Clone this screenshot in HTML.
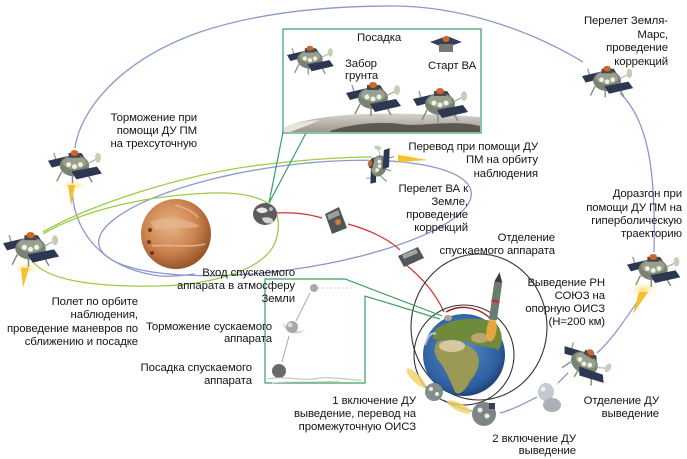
<!DOCTYPE html>
<html><head><meta charset="utf-8">
<style>
html,body{margin:0;padding:0;background:#fff;}
svg{display:block;}
text{font-family:"Liberation Sans",Arial,sans-serif;font-size:11.4px;letter-spacing:-0.1px;fill:#151515;}
</style></head><body>
<svg width="687" height="459" viewBox="0 0 687 459" xmlns="http://www.w3.org/2000/svg">
<defs>
 <radialGradient id="mars" cx="0.42" cy="0.38" r="0.68">
   <stop offset="0" stop-color="#e9b488"/>
   <stop offset="0.55" stop-color="#cd844e"/>
   <stop offset="1" stop-color="#8c4a22"/>
 </radialGradient>
 <radialGradient id="earth" cx="0.45" cy="0.42" r="0.62">
   <stop offset="0" stop-color="#5a8fce"/>
   <stop offset="0.8" stop-color="#2c5c9c"/>
   <stop offset="1" stop-color="#1a3a6c"/>
 </radialGradient>
 <radialGradient id="glow">
   <stop offset="0" stop-color="#ffe070" stop-opacity="1"/>
   <stop offset="1" stop-color="#fff3c0" stop-opacity="0"/>
 </radialGradient>
 <linearGradient id="ground" x1="0" x2="0" y1="0" y2="1">
   <stop offset="0" stop-color="#d6d2ca"/>
   <stop offset="1" stop-color="#9c968c"/>
 </linearGradient>
 <g id="lander">
   <line x1="14" y1="24" x2="9" y2="34" stroke="#8a8a80" stroke-width="1.5"/>
   <line x1="40" y1="26" x2="45" y2="35" stroke="#8a8a80" stroke-width="1.5"/>
   <line x1="25" y1="28" x2="25" y2="36" stroke="#8a8a80" stroke-width="1.5"/>
   <line x1="6" y1="5" x2="9" y2="15" stroke="#a0a098" stroke-width="1.5"/>
   <polygon points="0,13 34,5 38,11 4,20" fill="#2c3852"/>
   <ellipse cx="27" cy="18" rx="15" ry="11" fill="#7a8272"/>
   <ellipse cx="27" cy="15" rx="12" ry="6.5" fill="#9aa090"/>
   <circle cx="21" cy="17" r="2.5" fill="#eef4e0"/>
   <circle cx="27" cy="19" r="2.5" fill="#eef4e0"/>
   <circle cx="33" cy="17" r="2.5" fill="#eef4e0"/>
   <rect x="21" y="5" width="12" height="5" fill="#4a4a48"/>
   <ellipse cx="27" cy="5" rx="4" ry="3" fill="#d0652a"/>
   <polygon points="24,24 50,19 55,26 29,32" fill="#2c3852"/>
   <line x1="40" y1="16" x2="50" y2="11" stroke="#999"/>
   <ellipse cx="51" cy="10" rx="3" ry="5" fill="#c5cfb5"/>
 </g>
</defs>

<!-- ===== Blue trajectories ===== -->
<g fill="none" stroke="#8a98cc" stroke-width="1.3">
  <path d="M75,148 C80,110 120,60 200,32 C260,12 330,6 393,6 C460,6 530,30 583,62"/>
  <path d="M620,93 C648,120 656,170 654,252"/>
  <path d="M640,298 C628,315 612,340 597,353"/>
  <path d="M568,373 L558,383"/>
  <path d="M537,397 C525,403 512,410 500,413"/>
  <path d="M443,400 C450,404 460,408 472,411"/>
  <path d="M72,185 C72,230 100,268 160,276 C175,277 185,275 195,274"/>
  <ellipse cx="285" cy="218" rx="188" ry="52" transform="rotate(-8 285 218)"/>
</g>

<!-- ===== Green orbits ===== -->
<g fill="none" stroke="#9ccc44" stroke-width="1.3">
  <path d="M43,232 C90,205 180,175 260,165 C310,159 350,157 372,157"/>
  <path d="M43,234 C80,212 140,196 210,193 C245,192 268,198 276,212"/>
  <path d="M33,262 C50,282 100,287 160,286 C220,284 262,268 274,245 C280,232 279,220 276,212"/>
</g>

<!-- ===== Red path ===== -->
<g fill="none" stroke="#d43030" stroke-width="1.2">
  <path d="M276,213 C295,212 308,214 322,218"/>
  <path d="M348,224 C370,230 390,240 400,250"/>
  <path d="M405,264 C420,276 435,292 444,312"/>
</g>
<path d="M446,312 C462,303 480,308 492,320" fill="none" stroke="#a02020" stroke-width="1.4"/>

<!-- ===== Earth orbits ===== -->
<ellipse cx="479" cy="327" rx="68" ry="73" fill="none" stroke="#333" stroke-width="1.1"/>
<circle cx="464" cy="355" r="50" fill="none" stroke="#333" stroke-width="1.1"/>

<!-- ===== Mars ===== -->
<circle cx="176" cy="234" r="35" fill="url(#mars)"/>
<path d="M150,222 C165,215 185,218 200,226 C190,230 170,226 155,230 Z" fill="#e6b690" opacity="0.7"/>
<path d="M152,246 C170,244 190,248 205,244" stroke="#e8c0a0" stroke-width="1.5" fill="none" opacity="0.8"/>
<path d="M175,205 C185,208 195,212 198,218" stroke="#e8c0a0" stroke-width="2" fill="none" opacity="0.6"/>
<circle cx="150" cy="230" r="2" fill="#6a3a1c"/>
<circle cx="149" cy="242" r="2" fill="#6a3a1c"/>
<circle cx="152" cy="253" r="2" fill="#6a3a1c"/>

<!-- ===== Phobos ===== -->
<ellipse cx="265" cy="214" rx="12" ry="11" fill="#5c5c5c"/>
<path d="M256,210 C260,206 266,207 268,211 C264,214 259,214 256,210 Z" fill="#e8e8e8"/>
<path d="M262,218 C268,216 274,218 273,222 C268,225 263,223 262,218 Z" fill="#d0d0d0"/>
<circle cx="271" cy="209" r="2" fill="#bbb"/>

<!-- ===== Upper inset (Mars landing) ===== -->
<g fill="none" stroke="#3c9c6a" stroke-width="1.2">
  <rect x="283" y="29" width="198" height="104"/>
  <line x1="283" y1="132" x2="269" y2="203"/>
  <line x1="306" y1="133" x2="269" y2="203"/>
</g>
<path d="M284,128 C300,120 330,115 365,114 C400,113 440,114 480,117 L480,132 L284,132 Z" fill="url(#ground)"/>
<path d="M330,131 C350,124 380,121 400,124 C420,127 440,121 470,124 L480,126 L480,132 L330,132 Z" fill="#4a443e" opacity="0.8"/>
<path d="M284,128 C292,124 305,121 320,120 C310,125 300,128 290,132 L284,132 Z" fill="#e8e4dc"/>

<use href="#lander" transform="translate(287,44) scale(0.85)"/>
<use href="#lander" transform="translate(346,80) scale(1.0)"/>
<use href="#lander" transform="translate(413,86) scale(1.0)"/>
<!-- ascent vehicle -->
<polygon points="430,42 447,36 462,42 445,48" fill="#33405a"/>
<rect x="439" y="44" width="14" height="8" fill="#777a70"/>
<ellipse cx="446" cy="39" rx="3.5" ry="3" fill="#d0652a"/>

<!-- ===== Lower inset (Earth landing) ===== -->
<polyline points="442,316 345,279 265,279 265,383 365,383 365,296 440,319" fill="none" stroke="#3aa060" stroke-width="1.2"/>
<line x1="318" y1="288" x2="355" y2="288" stroke="#cfcfcf" stroke-dasharray="2,2"/>
<line x1="310" y1="293" x2="296" y2="321" stroke="#aaa" stroke-width="1"/>
<line x1="289" y1="336" x2="282" y2="362" stroke="#aaa" stroke-width="1"/>
<circle cx="314" cy="288" r="4" fill="#a8a8a8"/>
<path d="M282,322 C288,330 296,333 305,330 C298,336 286,335 282,322 Z" fill="#e8c8d0"/>
<circle cx="292" cy="327" r="6" fill="#a8a8a8"/>
<circle cx="290" cy="325" r="2.5" fill="#ddd"/>
<circle cx="279" cy="371" r="7" fill="#6a6a6a"/>
<path d="M268,379 C285,375 300,382 320,378 C335,376 350,381 362,380" fill="none" stroke="#bbb" stroke-width="1"/>
<path d="M272,383 C290,381 310,383 340,381" fill="none" stroke="#ccc" stroke-width="1"/>

<!-- ===== Earth ===== -->
<circle cx="464" cy="355" r="41" fill="url(#earth)"/>
<path d="M433,332 C445,320 470,315 495,322 C503,330 504,345 498,350 C488,346 478,346 470,343 C460,339 445,341 433,339 Z" fill="#6f8a3a"/>
<path d="M438,341 C455,338 470,345 476,352 C482,360 478,372 470,381 C465,392 458,396 455,392 C450,380 445,368 438,360 C433,352 434,345 438,341 Z" fill="#9a9a55"/>
<ellipse cx="452" cy="346" rx="13" ry="6" fill="#d8c8a0"/>
<ellipse cx="480" cy="338" rx="9" ry="5" fill="#b8a870"/>
<path d="M425,345 C428,335 432,332 436,334" stroke="#e0e8f0" stroke-width="2" fill="none" opacity="0.7"/>
<ellipse cx="448" cy="318" rx="4" ry="3" fill="#aaa890"/>

<!-- ===== Rocket ===== -->
<g transform="translate(496,298) rotate(8)">
  <ellipse cx="0" cy="32" rx="5" ry="12" fill="#f2a840" opacity="0.9"/>
  <rect x="-4" y="-16" width="8" height="38" fill="#6a7c72"/>
  <rect x="-4" y="2" width="8" height="2.5" fill="#c03030"/>
  <path d="M-4,-16 L0,-26 L4,-16 Z" fill="#3a3a3a"/>
</g>

<!-- ===== Flames ===== -->
<ellipse cx="73" cy="186" rx="13" ry="6" fill="url(#glow)"/>
<path d="M68,185 L75,185 L71,206 Z" fill="#f2c030"/>
<ellipse cx="26" cy="268" rx="12" ry="6" fill="url(#glow)"/>
<path d="M21,268 L29,268 L23,288 Z" fill="#f2c030"/>
<ellipse cx="643" cy="290" rx="14" ry="8" fill="url(#glow)"/>
<path d="M639,292 L648,292 L633,314 Z" fill="#f2c030"/>
<ellipse cx="405" cy="158" rx="11" ry="6" fill="url(#glow)"/>
<path d="M398,155 L398,162 L428,160 Z" fill="#f2c030"/>
<ellipse cx="416" cy="378" rx="13" ry="4" transform="rotate(45 416 378)" fill="#f2d060" opacity="0.8"/>
<ellipse cx="459" cy="407" rx="13" ry="4" transform="rotate(25 459 407)" fill="#f2d060" opacity="0.8"/>

<!-- ===== Spacecraft ===== -->
<use href="#lander" transform="translate(48,148) scale(0.98)"/>
<use href="#lander" transform="translate(3,230) scale(1.02)"/>
<use href="#lander" transform="translate(582,64) scale(0.93)"/>
<use href="#lander" transform="translate(627,252) scale(0.97)"/>
<use href="#lander" transform="translate(586,365) rotate(30) translate(-28,-18) scale(0.95)"/>
<use href="#lander" transform="translate(386,159) rotate(-75) translate(-28,-18) scale(0.72)"/>

<polygon points="325,214 339,207 347,228 332,234" fill="#4f5656"/>
<polygon points="327,215 338,210 340,215 329,220" fill="#9aa0a0"/>
<circle cx="338" cy="222" r="3" fill="#d87a30"/>
<polygon points="398,256 418,247 424,258 404,267" fill="#50585a"/>
<polygon points="402,255 416,249 418,253 404,259" fill="#a0a6a6"/>
<ellipse cx="434" cy="392" rx="9" ry="9" fill="#858c8c"/>
<circle cx="431" cy="389" r="2" fill="#e8eee0"/>
<circle cx="437" cy="394" r="2" fill="#e8eee0"/>
<ellipse cx="484" cy="414" rx="12" ry="12" fill="#7f8585"/>
<circle cx="480" cy="410" r="2.5" fill="#e8eee0"/>
<circle cx="487" cy="416" r="2.5" fill="#e8eee0"/>
<rect x="489" y="403" width="6" height="6" fill="#3a4050"/>
<ellipse cx="546" cy="392" rx="8" ry="9" fill="#c4c9ce"/>
<ellipse cx="552" cy="405" rx="9" ry="7" fill="#aab0b6"/>
<circle cx="543" cy="389" r="2.5" fill="#eef0f2"/>

<!-- ===== Text ===== -->
<g text-anchor="end">
  <text x="197" y="121">Торможение при</text>
  <text x="197" y="134">помощи ДУ ПМ</text>
  <text x="197" y="147">на трехсуточную</text>

  <text x="668" y="24">Перелет Земля-</text>
  <text x="668" y="38">Марс,</text>
  <text x="668" y="51">проведение</text>
  <text x="668" y="65">коррекций</text>

  <text x="538" y="150">Перевод при помощи ДУ</text>
  <text x="538" y="163">ПМ на орбиту</text>
  <text x="538" y="177">наблюдения</text>

  <text x="468" y="192">Перелет ВА к</text>
  <text x="468" y="205">Земле,</text>
  <text x="468" y="218">проведение</text>
  <text x="468" y="231">коррекций</text>

  <text x="682" y="197">Доразгон при</text>
  <text x="682" y="211">помощи ДУ ПМ на</text>
  <text x="682" y="224">гиперболическую</text>
  <text x="682" y="237">траекторию</text>

  <text x="555" y="241">Отделение</text>
  <text x="555" y="254">спускаемого аппарата</text>

  <text x="605" y="286">Выведение РН</text>
  <text x="605" y="299">СОЮЗ на</text>
  <text x="605" y="312">опорную ОИСЗ</text>
  <text x="605" y="325">(Н=200 км)</text>

  <text x="659" y="404">Отделение ДУ</text>
  <text x="659" y="417">выведение</text>

  <text x="576" y="442">2 включение ДУ</text>
  <text x="576" y="454">выведение</text>

  <text x="416" y="404">1 включение ДУ</text>
  <text x="416" y="417">выведение, перевод на</text>
  <text x="416" y="430">промежуточную ОИСЗ</text>

  <text x="295" y="276">Вход спускаемого</text>
  <text x="295" y="289">аппарата в атмосферу</text>
  <text x="295" y="302">Земли</text>

  <text x="272" y="330">Торможение сускаемого</text>
  <text x="272" y="342">аппарата</text>

  <text x="252" y="371">Посадка спускаемого</text>
  <text x="252" y="384">аппарата</text>

  <text x="138" y="305">Полет по орбите</text>
  <text x="138" y="318">наблюдения,</text>
  <text x="138" y="332">проведение маневров по</text>
  <text x="138" y="345">сближению и посадке</text>
</g>
<text x="357" y="41">Посадка</text>
<text x="345" y="67">Забор</text>
<text x="345" y="79">грунта</text>
<text x="428" y="69">Старт ВА</text>
</svg>
</body></html>
